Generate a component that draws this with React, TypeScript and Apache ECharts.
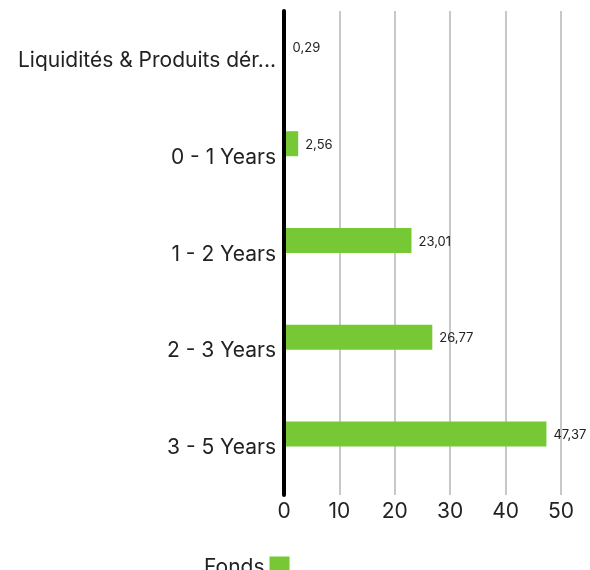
import React, { useEffect, useRef } from "react";
import * as echarts from "echarts";

const categories = [
  "Liquidités & Produits dérivés",
  "0 - 1 Years",
  "1 - 2 Years",
  "2 - 3 Years",
  "3 - 5 Years",
];
const fondsValues = [0.29, 2.56, 23.01, 26.77, 47.37];
const seriesName = "Fonds";
const xTicks = { min: 0, max: 50, interval: 10 };

export default function App() {
  const ref = useRef<HTMLDivElement>(null);
  useEffect(() => {
    if (!ref.current) return;
    const chart = echarts.init(ref.current, undefined, { renderer: "svg" });
    const font = "Inter";
    chart.setOption({
      animation: false,
      textStyle: { fontFamily: font },
      grid: { left: 284, right: 29, top: 11, bottom: 75 },
      legend: {
        data: [seriesName],
        left: 199,
        top: 551,
        align: "right",
        itemWidth: 20,
        itemHeight: 20,
        itemGap: 8,
        icon: "rect",
        textStyle: { fontSize: 21, color: "#222", fontFamily: font },
      },
      xAxis: {
        type: "value",
        min: xTicks.min,
        max: xTicks.max,
        interval: xTicks.interval,
        axisLine: { show: false },
        axisTick: { show: false },
        axisLabel: { fontSize: 21, color: "#222", margin: 5, fontFamily: font },
        splitLine: { lineStyle: { color: "#c8c8c8", width: 2 } },
      },
      yAxis: {
        type: "category",
        inverse: true,
        data: categories,
        z: 5,
        axisLine: { show: true, lineStyle: { color: "#000", width: 4 } },
        axisTick: { show: false },
        axisLabel: {
          fontSize: 21,
          color: "#222",
          margin: 8,
          width: 272,
          overflow: "truncate",
          ellipsis: "...",
          fontFamily: font,
        },
      },
      series: [
        {
          name: seriesName,
          type: "bar",
          data: fondsValues,
          barWidth: 25,
          barGap: "0%",
          itemStyle: { color: "#76c934" },
          label: {
            show: true,
            position: "right",
            distance: 7,
            fontSize: 13,
            color: "#222",
            fontFamily: font,
            formatter: (p: any) => String(p.value).replace(".", ","),
          },
        },
        {
          name: "_spacer",
          type: "bar",
          data: categories.map(() => null),
          barWidth: 25,
          barGap: "0%",
        },
      ],
    });
    return () => chart.dispose();
  }, []);
  return (
    <div
      ref={ref}
      style={{ position: "fixed", left: 0, top: 0, width: 590, height: 570 }}
    />
  );
}
